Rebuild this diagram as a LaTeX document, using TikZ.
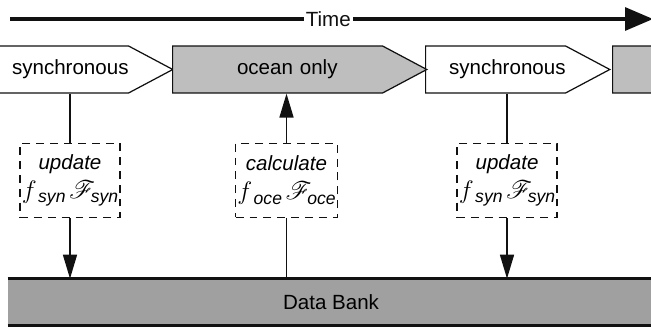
\documentclass[tikz,border=0pt]{standalone}
\usepackage{fontspec}
\setmainfont{Liberation Sans}
\usepackage{mathrsfs}
\usetikzlibrary{arrows.meta,calc,positioning,shapes.symbols}
\definecolor{ink}{HTML}{111111}
\definecolor{shade}{HTML}{BEBEBE}
\definecolor{bankgray}{HTML}{A0A0A0}
% flux pair with its subscript
\newcommand{\fluxpair}[1]{{\fontsize{14}{15}\selectfont$f$}\kern0.8pt\raisebox{-2.5pt}{\fontsize{10}{10}\selectfont\textit{#1}}\kern2pt{\fontsize{14}{15}\selectfont$\mathscr{F}$}\kern-2.5pt\raisebox{-2.5pt}{\fontsize{10}{10}\selectfont\textit{#1}}}

\begin{document}
\begin{tikzpicture}[x=0.02cm,y=-0.02cm,>={Triangle[length=0.48cm,width=0.28cm]},
  font=\fontsize{11.7}{13}\selectfont,
  phase/.style={draw=ink,line width=0.7pt,signal,signal to=east,signal pointer angle=56,minimum height=0.94cm,inner xsep=0pt,inner ysep=0pt,anchor=west,align=right},
  task/.style={draw=ink,dash pattern=on 4.5pt off 3.4pt,line width=0.6pt,minimum width=2cm,minimum height=1.48cm,inner sep=1pt,align=center},
  link/.style={draw=ink,line width=0.9pt}]
\useasboundingbox (0,0) rectangle (651,327);
% time axis
\coordinate (t0) at (10,19);
\coordinate (t1) at (653,19);
\draw[ink,line width=1.8pt,-{Triangle[length=0.56cm,width=0.46cm]}] (t0) -- node[pos=0.495,fill=white,inner xsep=1pt,inner ysep=0pt] (timelbl) {Time} (t1);
% phases
\node[phase,text width=3.36cm] (sync1) at (-40,69.5) {synchronous};
\node[phase,fill=shade,text width=4.2cm] (ocean) at (172,69.5) {ocean only\hspace*{0.9cm}\mbox{}};
\node[phase,text width=2.8cm] (sync2) at (425,69.5) {synchronous};
\node[phase,fill=shade,text width=2cm] (ocean2) at (612,69.5) {};
% exchanges
\node[task] (upd1) at (70,180.5) {\textit{update}\\[3.5pt]\fluxpair{syn}};
\node[task] (calc) at (286.5,180.5) {\textit{calculate}\\[3.5pt]\fluxpair{oce}};
\node[task] (upd2) at (507,180.5) {\textit{update}\\[3.5pt]\fluxpair{syn}};
% data bank
\node[fill=bankgray,minimum width=12.92cm,minimum height=0.92cm,inner sep=0pt] (bank) at (331,302) {Data Bank};
\draw[ink,line width=1.8pt] (bank.north west) -- (bank.north east);
\draw[ink,line width=1.8pt] (bank.south west) -- (bank.south east);
\draw[link] (upd1.north |- sync1.south) -- (upd1.north);
\draw[link,->] (upd1.south) -- (upd1.south |- bank.north);
\draw[link] (calc.south |- bank.north) -- (calc.south);
\draw[link,->] (calc.north) -- (calc.north |- ocean.south);
\draw[link] (upd2.north |- sync2.south) -- (upd2.north);
\draw[link,->] (upd2.south) -- (upd2.south |- bank.north);
\end{tikzpicture}
\end{document}
